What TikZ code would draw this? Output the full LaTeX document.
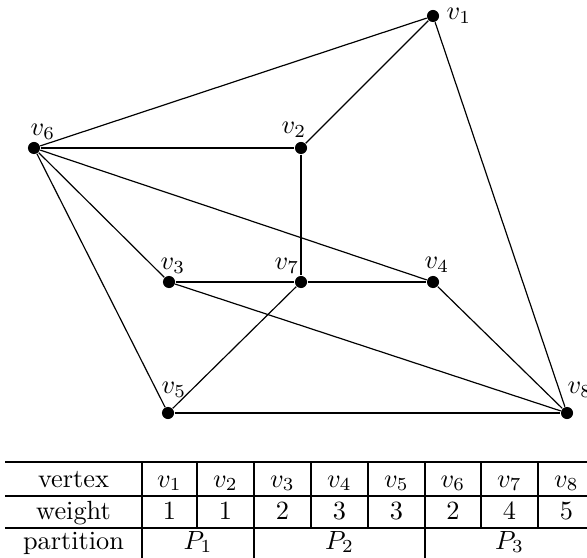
\documentclass[tikz,border=0pt]{standalone}
\begin{document}
\begin{tikzpicture}[x=0.38pt,y=-0.38pt,
  dot/.style={circle,fill=black,inner sep=0pt,minimum size=4.6pt},
  edge/.style={line width=0.45pt},
  lbl/.style={inner sep=0pt},
  cell/.style={anchor=base,inner sep=0pt},
  rule/.style={line width=0.45pt}]
\useasboundingbox (0,0) rectangle (587,558);
% vertices
\node[dot] (v1) at (433,16) {};
\node[dot] (v2) at (301,148) {};
\node[dot] (v6) at (34,148) {};
\node[dot] (v3) at (169,282) {};
\node[dot] (v7) at (301,282) {};
\node[dot] (v4) at (433,282) {};
\node[dot] (v5) at (168,413) {};
\node[dot] (v8) at (567,413) {};
% labels
\node[lbl] (l1) at (459,16) {$v_1$};
\node[lbl] (l2) at (294,130) {$v_2$};
\node[lbl] (l6) at (43,132) {$v_6$};
\node[lbl] (l3) at (173,266) {$v_3$};
\node[lbl] (l7) at (287,266) {$v_7$};
\node[lbl] (l4) at (437,265) {$v_4$};
\node[lbl] (l5) at (174,390) {$v_5$};
\node[lbl] (l8) at (580,390) {$v_8$};
% edges
\draw[edge] (v1) -- (v6);
\draw[edge] (v1) -- (v2);
\draw[edge] (v1) -- (v8);
\draw[edge] (v6) -- (v2);
\draw[edge] (v2) -- (v7);
\draw[edge] (v6) -- (v4);
\draw[edge] (v6) -- (v3);
\draw[edge] (v6) -- (v5);
\draw[edge] (v3) -- (v7);
\draw[edge] (v7) -- (v4);
\draw[edge] (v3) -- (v8);
\draw[edge] (v7) -- (v5);
\draw[edge] (v4) -- (v8);
\draw[edge] (v5) -- (v8);
% table rules
\draw[rule] (5,462) -- (600,462);
\draw[rule] (5,496) -- (600,496);
\draw[rule] (5,528) -- (600,528);
\draw[rule] (142,462) -- (142,562);
\draw[rule] (254,462) -- (254,562);
\draw[rule] (425,462) -- (425,562);
\foreach \x in {197,311,368,481,538} \draw[rule] (\x,462) -- (\x,528);
% table cells
\node[cell] (h1) at (73.5,487) {vertex};
\node[cell] (h2) at (73.5,519) {weight};
\node[cell] (h3) at (73.5,549) {partition};
\foreach \c/\x/\w [count=\i] in {1/169.5/1,2/225.5/1,3/282.5/2,4/339.5/3,5/396.5/3,6/453/2,7/509.5/4,8/566.5/5}{
  \node[cell] (t\i) at (\x,487) {$v_{\c}$};
  \node[cell] (w\i) at (\x,519) {$\w$};
}
\node[cell] (p1) at (198,549) {$P_1$};
\node[cell] (p2) at (339.5,549) {$P_2$};
\node[cell] (p3) at (509.5,549) {$P_3$};
\end{tikzpicture}
\end{document}
